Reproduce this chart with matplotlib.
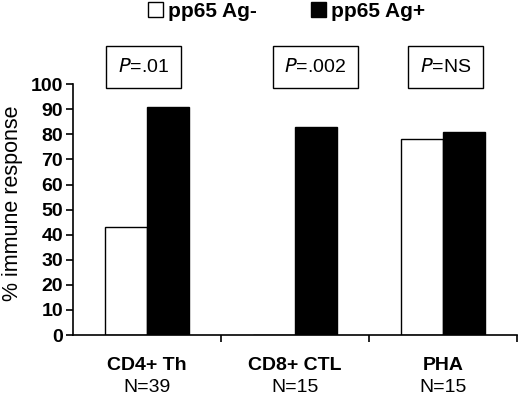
import matplotlib
matplotlib.use("Agg")
import matplotlib.pyplot as plt
import numpy as np

plt.rcParams["font.family"] = ["Liberation Sans", "DejaVu Sans"]

groups = ["CD4+ Th", "CD8+ CTL", "PHA"]
group_n = ["N=39", "N=15", "N=15"]
ag_neg = [43, 0, 78]
ag_pos = [91, 83, 81]
p_labels = [".01", ".002", "NS"]

fig = plt.figure(figsize=(5.2, 3.97), dpi=100)
ax = fig.add_axes([0.140, 0.156, 0.854, 0.632])

x = np.arange(len(groups))
w = 0.285
b1 = ax.bar(x - w / 2, ag_neg, w, color="white", edgecolor="black", linewidth=1.0,
            label="pp65 Ag-")
b2 = ax.bar(x + w / 2, ag_pos, w, color="black", edgecolor="black", linewidth=1.0,
            label="pp65 Ag+")

ax.set_xlim(-0.5, 2.5)
ax.set_ylim(0, 100)
ax.set_yticks(range(0, 101, 10))
ax.set_xticks([0.5, 1.5, 2.5])
ax.set_xticklabels([])
ax.tick_params(axis="x", length=5, width=1.2)
ax.tick_params(axis="y", length=5, width=1.2, labelsize=14, pad=2)
for lab in ax.get_yticklabels():
    lab.set_fontweight("bold")
for s in ["top", "right"]:
    ax.spines[s].set_visible(False)
for s in ["left", "bottom"]:
    ax.spines[s].set_linewidth(1.2)
ax.set_ylabel("% immune response", fontsize=15.5)
ax.yaxis.set_label_coords(-0.113, 0.525)

for i in range(len(groups)):
    ax.text(i, -12, groups[i], ha="center", va="center", fontsize=14,
            fontweight="bold", clip_on=False)
    ax.text(i, -20.8, group_n[i], ha="center", va="center", fontsize=14,
            clip_on=False)

# P-value boxes above the bars
box_x = [-0.024, 1.138, 2.02]
for bx, p in zip(box_x, p_labels):
    ax.text(bx, 106.8, "$\\it{P}$=" + p, ha="center", va="center", fontsize=14,
            clip_on=False, bbox=dict(boxstyle="square,pad=0.6", fc="white",
                                     ec="black", lw=1.0))

fig.legend(handles=[b1, b2], loc="upper left", bbox_to_anchor=(0.285, 0.995),
           ncol=2, frameon=False, handlelength=0.7, handleheight=0.7,
           handletextpad=0.25, columnspacing=2.6, borderpad=0,
           borderaxespad=0, prop={"weight": "bold", "size": 15})

plt.savefig("out.png", dpi=100)
